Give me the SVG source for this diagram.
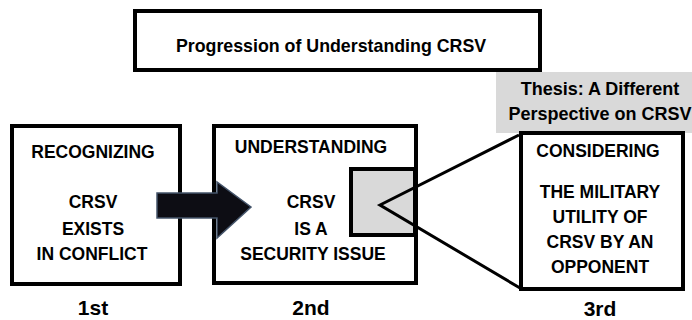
<svg xmlns="http://www.w3.org/2000/svg" width="692" height="320" viewBox="0 0 692 320">
<style>
.box{fill:#fff;stroke:#000;stroke-width:4}
.t{font-family:"Liberation Sans",Arial,sans-serif;font-weight:bold;font-size:17.5px;fill:#000;text-anchor:middle}
.big{font-size:21px}
.line{fill:none;stroke:#000;stroke-width:3}
</style>
<rect width="692" height="320" fill="#fff"/>
<g id="title">
<rect class="box" x="135" y="11" width="405" height="59"/>
<text class="t" x="331" y="52" style="font-size:17.8px">Progression of Understanding CRSV</text>
</g>
<g id="thesis">
<rect x="496" y="72" width="196" height="61" fill="#d9d9d9"/>
<text class="t" x="600" y="95" style="font-size:18px">Thesis: A Different</text>
<text class="t" x="600" y="120" style="font-size:18px">Perspective on CRSV</text>
</g>
<g id="node1">
<rect class="box" x="12" y="126" width="168" height="158"/>
<text class="t" x="93" y="158">RECOGNIZING</text>
<text class="t" x="93" y="208">CRSV</text>
<text class="t" x="93" y="235">EXISTS</text>
<text class="t" x="92" y="260">IN CONFLICT</text>
<text class="t big" x="93" y="315">1st</text>
</g>
<g id="node2">
<rect class="box" x="214" y="126" width="202" height="157"/>
<text class="t" x="311" y="153">UNDERSTANDING</text>
<text class="t" x="311" y="208">CRSV</text>
<text class="t" x="311" y="235">IS A</text>
<text class="t" x="313" y="260">SECURITY ISSUE</text>
<text class="t big" x="311" y="315">2nd</text>
<rect x="351" y="169" width="64" height="66" fill="#d9d9d9" stroke="#000" stroke-width="4"/>
</g>
<g id="node3">
<rect class="box" x="521" y="133" width="162" height="156"/>
<text class="t" x="598" y="157">CONSIDERING</text>
<text class="t" x="600" y="198">THE MILITARY</text>
<text class="t" x="600" y="223">UTILITY OF</text>
<text class="t" x="600" y="248">CRSV BY AN</text>
<text class="t" x="600" y="273">OPPONENT</text>
<text class="t big" x="600" y="316">3rd</text>
</g>
<g id="connectors">
<path d="M157,193 H217 V182 L251,207 L217,238 V218 H157 Z" fill="#0d0d14" stroke="#44546a" stroke-width="1.5"/>
<polyline class="line" points="519,135 380,205 520,288"/>
</g>
</svg>
